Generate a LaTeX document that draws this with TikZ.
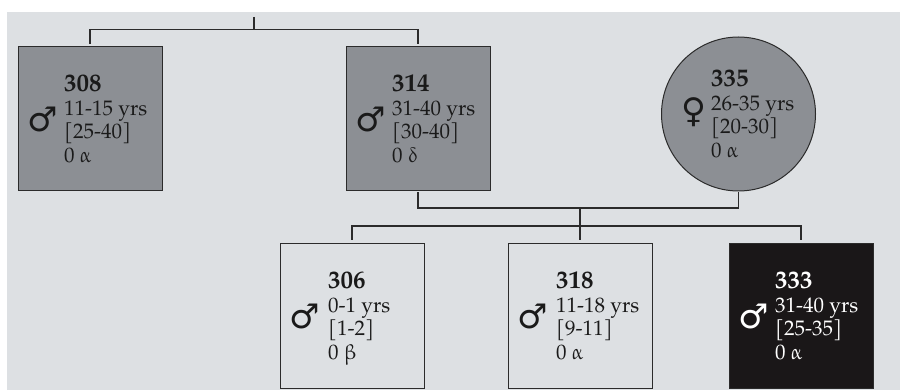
\documentclass[tikz,border=0pt]{standalone}
\usepackage{fontspec}
\setmainfont{TeX Gyre Pagella}
\newfontfamily\symfont{DejaVu Sans}
\definecolor{bgc}{HTML}{DDE0E3}
\definecolor{affc}{HTML}{8C8F94}
\definecolor{darkc}{HTML}{1A1718}
\definecolor{linec}{HTML}{2B2B2B}
\definecolor{txtc}{HTML}{1A1A1A}
\newcommand\pinfo[4]{\vtop{\hbox{\fontsize{25}{25}\selectfont\bfseries #1}\hbox{#2}\hbox{#3}\hbox{#4}}}
\tikzset{
  person/.style={draw=linec, line width=1pt, inner sep=0pt, outer sep=0pt},
  malebox/.style={person, rectangle, minimum size=144pt},
  femcircle/.style={person, circle, minimum size=154pt},
  affected/.style={fill=affc},
  unaffected/.style={fill=bgc},
  darkfill/.style={fill=darkc},
  info/.style={anchor=base west, inner sep=0pt, text=txtc, font=\fontsize{21}{23.5}\selectfont},
  sym/.style={inner sep=0pt, text=txtc, font=\symfont\fontsize{34}{34}\selectfont},
  conn/.style={draw=linec, line width=1.2pt}
}
\begin{document}
\begin{tikzpicture}[x=1pt,y=-1pt]
\useasboundingbox (0,0) rectangle (900,390);
\fill[bgc] (7,12) rectangle (900,390);
% parents generation
\node[malebox, affected] (p308) at (90,119) {};
\node[malebox, affected] (p314) at (418,119) {};
\node[femcircle, affected] (p335) at (738.5,114) {};
% children
\node[malebox, unaffected] (p306) at (352,316) {};
\node[malebox, unaffected] (p318) at (580,316) {};
\node[malebox, darkfill] (p333) at (801,316) {};
% texts
\node[info] (t308) at ([xshift=-26pt,yshift=27pt]p308.center) {\pinfo{308}{11-15 yrs}{[25-40]}{0 α}};
\node[info] (t314) at ([xshift=-26pt,yshift=27pt]p314.center) {\pinfo{314}{31-40 yrs}{[30-40]}{0 δ}};
\node[info] (t335) at ([xshift=-27.5pt,yshift=27pt]p335.center) {\pinfo{335}{26-35 yrs}{[20-30]}{0 α}};
\node[info] (t306) at ([xshift=-24pt,yshift=27pt]p306.center) {\pinfo{306}{0-1 yrs}{[1-2]}{0 β}};
\node[info] (t318) at ([xshift=-24pt,yshift=27pt]p318.center) {\pinfo{318}{11-18 yrs}{[9-11]}{0 α}};
\node[info, text=white] (t333) at ([xshift=-26pt,yshift=27pt]p333.center) {\pinfo{333}{31-40 yrs}{[25-35]}{0 α}};
% sex symbols
\node[sym] (s308) at ([xshift=-47pt]p308.center) {♂};
\node[sym] (s314) at ([xshift=-47pt]p314.center) {♂};
\node[sym] (s335) at ([xshift=-45pt,yshift=2pt]p335.center) {♀};
\node[sym] (s306) at ([xshift=-47pt]p306.center) {♂};
\node[sym] (s318) at ([xshift=-47pt]p318.center) {♂};
\node[sym, text=white] (s333) at ([xshift=-47pt]p333.center) {♂};
% connectors
\coordinate (root) at (254,17);
\coordinate (j1) at (254,29.5);
\coordinate (mate) at (580,208);
\coordinate (sib) at (580,226);
\draw[conn] (root) -- (j1);
\draw[conn] ([yshift=3pt]p308.north) |- (j1) -| ([yshift=3pt]p314.north);
\draw[conn] ([yshift=-1.5pt]p314.south) |- (mate) -| ([yshift=-1.5pt]p335.south);
\draw[conn] (mate) -- ([yshift=4pt]p318.north);
\draw[conn] ([yshift=4pt]p306.north) |- (sib) -| ([yshift=4pt]p333.north);
\end{tikzpicture}
\end{document}
